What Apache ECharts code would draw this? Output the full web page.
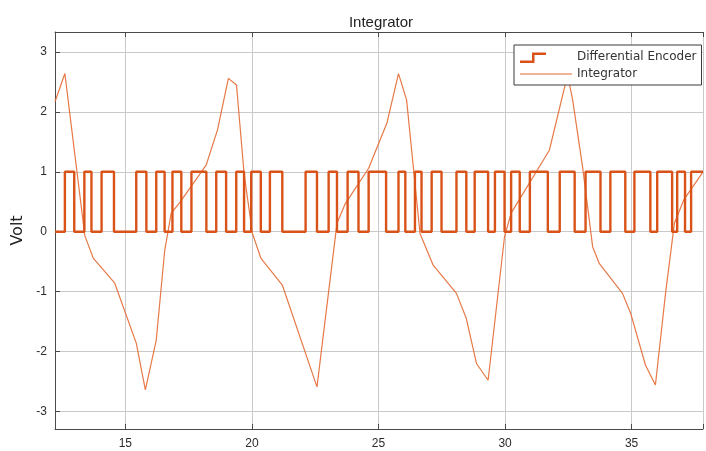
<!DOCTYPE html>
<html>
<head>
<meta charset="utf-8">
<script src="https://cdn.jsdelivr.net/npm/echarts@6/dist/echarts.min.js"></script>
<style>
html,body{margin:0;padding:0;background:#fff;}
#chart{width:706px;height:451px;}
</style>
</head>
<body>
<div id="chart"></div>
<script>
// Differential encoder: x positions of level transitions (starts low, alternates)
const encoderStartLevel = 0;
const encoderEdges = [12.61, 12.98, 13.38, 13.66, 14.06, 14.55, 15.43, 15.83, 16.22, 16.55,
  16.86, 17.21, 17.61, 18.20, 18.59, 18.98, 19.38, 19.69, 19.97, 20.35,
  20.71, 21.20, 22.12, 22.57, 23.03, 23.36, 23.78, 24.21, 24.61, 25.30,
  25.79, 26.06, 26.44, 26.70, 27.10, 27.49, 28.08, 28.47, 28.80, 29.33,
  29.60, 29.98, 30.24, 30.58, 30.98, 31.69, 32.16, 32.75, 33.18, 33.77,
  34.16, 34.75, 35.11, 35.74, 36.01, 36.60, 36.80, 37.11, 37.35];

// Integrator polyline
const integratorX = [12.22, 12.61, 13.40, 13.73, 14.58, 15.43, 15.79, 16.22, 16.55, 16.81,
  17.14, 18.19, 18.64, 19.07, 19.39, 19.69, 20.02, 20.35, 21.20, 22.57,
  23.36, 23.69, 24.61, 25.33, 25.79, 26.11, 26.64, 27.16, 28.08, 28.47,
  28.87, 29.33, 29.98, 30.24, 31.75, 32.47, 32.67, 33.06, 33.46, 33.72,
  34.64, 34.96, 35.55, 35.94, 36.34, 36.69, 37.06, 37.82];
const integratorY = [2.17, 2.64, -0.07, -0.44, -0.86, -1.86, -2.64, -1.81, -0.33, 0.31,
  0.48, 1.11, 1.70, 2.56, 2.45, 0.97, -0.03, -0.44, -0.89, -2.59,
  0.14, 0.47, 1.06, 1.81, 2.64, 2.20, -0.03, -0.56, -1.03, -1.45,
  -2.20, -2.48, -0.08, 0.31, 1.36, 2.62, 2.20, 1.09, -0.25, -0.53,
  -1.03, -1.36, -2.23, -2.56, -1.03, 0.14, 0.53, 1.00];

const xTickLabels = [15, 20, 25, 30, 35];
const yTickLabels = [-3, -2, -1, 0, 1, 2, 3];

const xMin = 12.22, xMax = 37.82, yMin = -3.294, yMax = 3.334;

// build step data
const encoderData = [[xMin, encoderStartLevel]];
let lvl = encoderStartLevel;
encoderEdges.forEach(e => { lvl = 1 - lvl; encoderData.push([e, lvl]); });
encoderData.push([xMax, lvl]);
const integratorData = integratorX.map((x, i) => [x, integratorY[i]]);

const FONT = 'Arial, "Liberation Sans", Helvetica, sans-serif';
const WIDE = '"DejaVu Sans", Verdana, sans-serif';
const AXIS_COLOR = '#4a4a4a';
const GRID_COLOR = '#c9c9c9';
const ORANGE = '#D95319';

const chart = echarts.init(document.getElementById('chart'), null, {renderer: 'canvas'});
const showX = v => xTickLabels.some(t => Math.abs(t - v) < 1e-6) ? String(Math.round(v)) : '';
const showY = v => yTickLabels.some(t => Math.abs(t - v) < 1e-6) ? String(Math.round(v)) : '';

chart.setOption({
  animation: false,
  backgroundColor: '#fff',
  title: {
    text: 'Integrator',
    left: 376, top: 10, textAlign: 'center',
    textStyle: {fontFamily: FONT, fontSize: 15, fontWeight: 'normal', color: '#1f1f1f'}
  },
  grid: {left: 55, right: 0, top: 32, bottom: 22, containLabel: false},
  legend: {
    orient: 'vertical',
    left: 514, top: 45,
    padding: [6, 5, 5, 6],
    itemGap: 5,
    itemWidth: 52, itemHeight: 12,
    backgroundColor: '#fff',
    borderColor: '#3a3a3a', borderWidth: 1,
    textStyle: {fontFamily: WIDE, fontSize: 12, color: '#333'},
    data: [
      {name: 'Differential Encoder',
       icon: 'path://M0,9.5 L12,9.5 L12,1.5 L26,1.5 L26,4 L14.5,4 L14.5,12 L0,12 Z M52,0 L51.99,0 L52,0.01 Z M0,0 L0.01,0 L0,0.01 Z'},
      {name: 'Integrator',
       icon: 'path://M0,5.4 L52,5.4 L52,6.6 L0,6.6 Z M0,0 L0.01,0 L0,0.01 Z M52,12 L51.99,12 L52,11.99 Z'}
    ]
  },
  xAxis: [{
    type: 'value', min: xMin, max: xMax, splitNumber: 5,
    axisLine: {show: true, onZero: false, lineStyle: {color: AXIS_COLOR, width: 1}},
    axisTick: {show: true, inside: true, length: 5, lineStyle: {color: AXIS_COLOR}},
    axisLabel: {formatter: showX, margin: 9, fontFamily: FONT, fontSize: 12, color: '#2a2a2a'},
    splitLine: {show: true, lineStyle: {color: GRID_COLOR, width: 1}}
  }, {
    type: 'value', position: 'top', min: xMin, max: xMax, splitNumber: 5,
    axisLine: {show: true, onZero: false, lineStyle: {color: AXIS_COLOR, width: 1}},
    axisTick: {show: true, inside: true, length: 5, lineStyle: {color: AXIS_COLOR}},
    axisLabel: {show: false},
    splitLine: {show: false}
  }],
  yAxis: {
    type: 'value', min: yMin, max: yMax, splitNumber: 5,
    name: 'Volt', nameLocation: 'middle', nameGap: 25, nameRotate: 90,
    nameTextStyle: {fontFamily: WIDE, fontSize: 16, color: '#222'},
    axisLine: {show: true, onZero: false, lineStyle: {color: AXIS_COLOR, width: 1}},
    axisTick: {show: true, inside: true, length: 5, lineStyle: {color: AXIS_COLOR}},
    axisLabel: {formatter: showY, margin: 8, fontFamily: FONT, fontSize: 12, color: '#2a2a2a'},
    splitLine: {show: true, lineStyle: {color: GRID_COLOR, width: 1}}
  },
  series: [{
    name: 'Differential Encoder',
    type: 'line', step: 'end', showSymbol: false, symbol: 'none',
    data: encoderData,
    itemStyle: {color: ORANGE},
    lineStyle: {color: ORANGE, width: 2.4},
    z: 3
  }, {
    name: 'Integrator',
    type: 'line', showSymbol: false, symbol: 'none',
    data: integratorData,
    itemStyle: {color: '#E36A33'},
    lineStyle: {color: '#E36A33', width: 1.2, opacity: 0.9},
    z: 2
  }]
});
</script>
</body>
</html>
